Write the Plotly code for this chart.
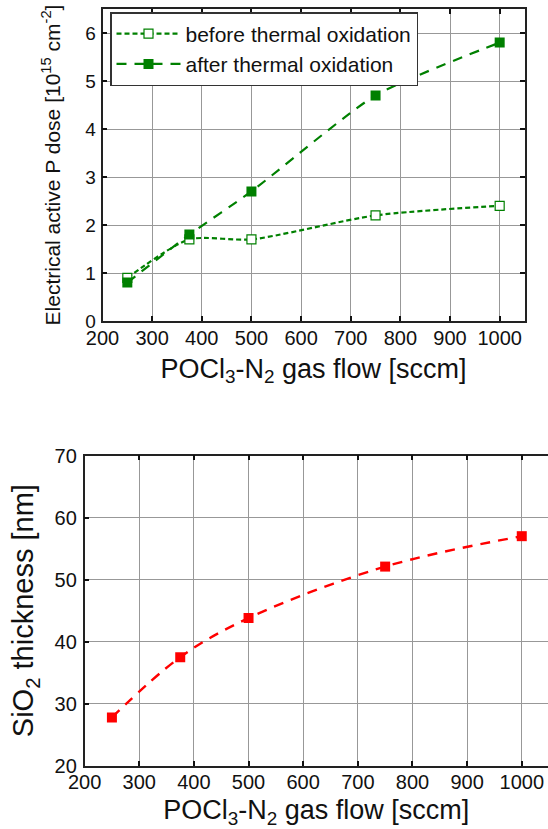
import plotly.graph_objects as go

# ---- data ----
flow = [250, 375, 500, 750, 1000]                 # POCl3-N2 gas flow [sccm]
dose_before = [0.9, 1.7, 1.7, 2.2, 2.4]           # 10^15 cm^-2
dose_after = [0.8, 1.8, 2.7, 4.7, 5.8]            # 10^15 cm^-2
sio2_thickness = [27.8, 37.5, 43.8, 52.1, 57.0]   # nm

x_ticks = [200, 300, 400, 500, 600, 700, 800, 900, 1000]
dose_ticks = [0, 1, 2, 3, 4, 5, 6]
thick_ticks = [20, 30, 40, 50, 60, 70]

GREEN = "#008000"
RED = "#ff0000"
FONT = "Arial, Liberation Sans, sans-serif"
W, H = 548, 829

fig = go.Figure()

fig.add_trace(go.Scatter(
    x=flow, y=dose_before, name="before thermal oxidation",
    mode="lines+markers", line=dict(color=GREEN, width=2.2, dash="5px,3px", shape="spline", smoothing=0.7),
    marker=dict(symbol="square", size=9, color="white", line=dict(color=GREEN, width=1.2)),
    xaxis="x", yaxis="y"))
fig.add_trace(go.Scatter(
    x=flow, y=dose_after, name="after thermal oxidation",
    mode="lines+markers", line=dict(color=GREEN, width=2.2, dash="10px,8px", shape="spline", smoothing=0.6),
    marker=dict(symbol="square", size=10, color=GREEN),
    xaxis="x", yaxis="y"))
fig.add_trace(go.Scatter(
    x=flow, y=sio2_thickness, name="SiO2 thickness", showlegend=False,
    mode="lines+markers", line=dict(color=RED, width=2.4, dash="10px,8px", shape="spline", smoothing=1.0),
    marker=dict(symbol="square", size=10, color=RED),
    xaxis="x2", yaxis="y2"))

def px_x(v):
    return v / W

def px_y(v):
    return 1 - v / H

axis_common = dict(
    automargin=False,
    showgrid=True, gridcolor="#989898", gridwidth=1,
    showline=True, linecolor="#222222", linewidth=1.5,
    ticks="inside", ticklen=5, tickwidth=1.5, tickcolor="#111111",
    zeroline=False, tickfont=dict(family=FONT, size=20, color="#111111"),
)

fig.update_layout(
    width=W, height=H,
    margin=dict(l=0, r=0, t=0, b=0),
    paper_bgcolor="white", plot_bgcolor="white",
    font=dict(family=FONT, color="#111111"),
    showlegend=True,
    legend=dict(
        x=px_x(110), y=px_y(12), xanchor="left", yanchor="top",
        bgcolor="white", bordercolor="#333333", borderwidth=1.5,
        font=dict(family=FONT, size=21, color="#111111"),
        itemwidth=64, tracegroupgap=0,
    ),
    xaxis=dict(
        axis_common, domain=[px_x(102.5), px_x(524.5)], range=[200, 1050],
        tickvals=x_ticks, mirror="ticks", anchor="y",
        ticklabelstandoff=-2,
        title=dict(text="POCl<sub>3</sub>-N<sub>2</sub> gas flow [sccm]", font=dict(family=FONT, size=27), standoff=11),
    ),
    yaxis=dict(
        axis_common, domain=[px_y(321), px_y(9)], range=[0, 6.5],
        tickvals=dose_ticks, mirror="ticks", anchor="x",
        tickfont=dict(family=FONT, size=19, color="#111111"),
        ticklabelstandoff=1,
        title=dict(text="Electrical active P dose [10<sup>15</sup> cm<sup>-2</sup>]", font=dict(family=FONT, size=21), standoff=19),
    ),
    xaxis2=dict(
        axis_common, domain=[px_x(84.6), 1.0], range=[200, 1048],
        tickvals=x_ticks, mirror="ticks", anchor="y2",
        ticklabelstandoff=-3,
        title=dict(text="POCl<sub>3</sub>-N<sub>2</sub> gas flow [sccm]", font=dict(family=FONT, size=27), standoff=14),
    ),
    yaxis2=dict(
        axis_common, domain=[px_y(765.8), px_y(455.5)], range=[20, 70],
        tickvals=thick_ticks, mirror=False, anchor="x2",
        ticklabelstandoff=2,
        title=dict(text="SiO<sub>2</sub> thickness [nm]", font=dict(family=FONT, size=29), standoff=12),
    ),
    yaxis3=dict(
        overlaying="y2", side="right", anchor="x2", range=[20, 70], automargin=False,
        tickvals=thick_ticks, showgrid=False, showline=False, zeroline=False,
        ticks="inside", ticklen=5, tickwidth=1.5, tickcolor="#111111",
        showticklabels=False,
    ),
)

fig.write_html("out.html")
